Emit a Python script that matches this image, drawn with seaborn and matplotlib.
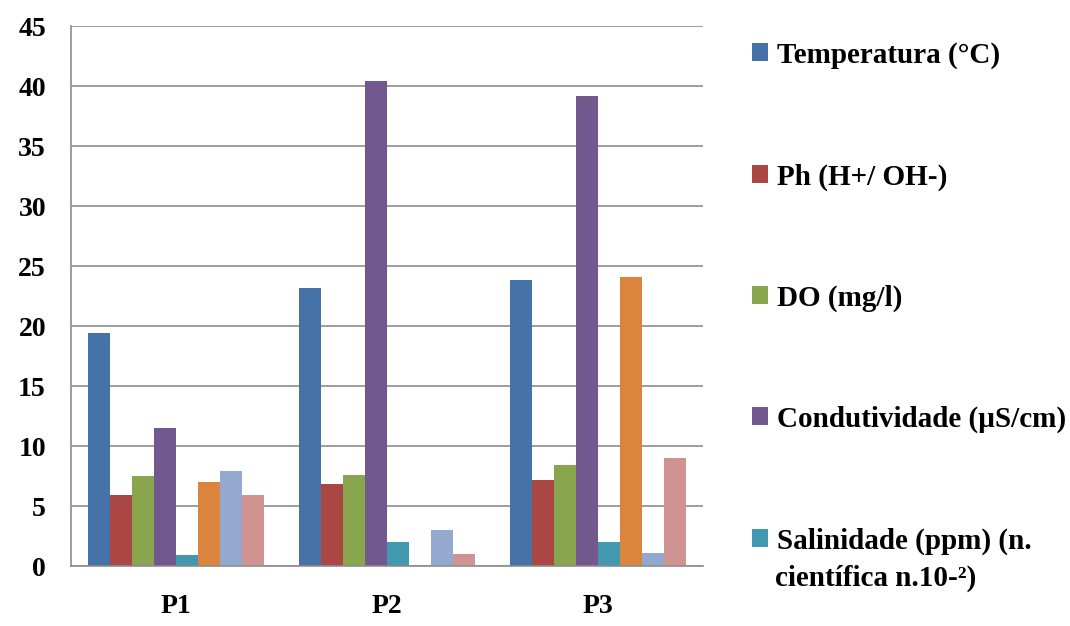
import matplotlib
matplotlib.use("Agg")
import matplotlib.pyplot as plt
import seaborn as sns
import pandas as pd
from matplotlib.patches import Patch

categories = ["P1", "P2", "P3"]
series_names = [
    "Temperatura (°C)",
    "Ph (H+/ OH-)",
    "DO (mg/l)",
    "Condutividade (µS/cm)",
    "Salinidade (ppm) (n.",
    "Série 6",
    "Série 7",
    "Série 8",
]
salinidade_line2 = "científica n.10-²)"
temperatura = [19.4, 23.2, 23.8]
ph = [5.9, 6.8, 7.2]
do = [7.5, 7.6, 8.4]
condutividade = [11.5, 40.4, 39.2]
salinidade = [0.9, 2.0, 2.0]
serie6 = [7.0, 0.0, 24.1]
serie7 = [7.9, 3.0, 1.1]
serie8 = [5.9, 1.0, 9.0]
all_values = [temperatura, ph, do, condutividade, salinidade, serie6, serie7, serie8]
yticks = [0, 5, 10, 15, 20, 25, 30, 35, 40, 45]

colors = ["#4572A7", "#AA4643", "#89A54E", "#71588F", "#4198AF",
          "#DB843D", "#93A9CF", "#D19392"]

rows = []
for name, vals in zip(series_names, all_values):
    for c, v in zip(categories, vals):
        rows.append({"cat": c, "serie": name, "val": v})
df = pd.DataFrame(rows)

sns.set_style("white")
plt.rcParams["font.family"] = ["Liberation Serif", "DejaVu Serif"]
plt.rcParams["font.weight"] = "bold"
plt.rcParams["text.color"] = "black"
plt.rcParams["xtick.color"] = "black"
plt.rcParams["ytick.color"] = "black"

fig = plt.figure(figsize=(10.7, 6.26), dpi=100)
ax = fig.add_axes([71 / 1070, 60 / 626, 632 / 1070, 540 / 626])

sns.barplot(data=df, x="cat", y="val", hue="serie", hue_order=series_names,
            palette=colors, width=0.835, saturation=1, ax=ax, legend=False,
            linewidth=0, errorbar=None)

ax.set_ylim(0, 45)
ax.set_yticks(yticks)
ax.set_xlim(-0.5, 2.5)
ax.yaxis.grid(True, color="#8c8c8c", linewidth=1.2)
ax.set_axisbelow(True)
for s in ["top", "right"]:
    ax.spines[s].set_visible(False)
for s in ["left", "bottom"]:
    ax.spines[s].set_color("#8c8c8c")
    ax.spines[s].set_linewidth(1.2)
ax.set_xlabel("")
ax.set_ylabel("")
ax.tick_params(axis="y", length=5, color="#8c8c8c", labelcolor="black", pad=13, labelsize=20)
ax.tick_params(axis="x", length=0, pad=20, labelcolor="black", labelsize=20)
for lab in ax.get_xticklabels() + ax.get_yticklabels():
    lab.set_fontweight("bold")

legend_y = [55, 177, 298, 419, 541]
for i, ypix in enumerate(legend_y):
    h = Patch(facecolor=colors[i], edgecolor="none", label=series_names[i])
    fig.legend(handles=[h], loc="center left",
               bbox_to_anchor=(752 / 1070, 1 - ypix / 626),
               frameon=False, prop={"size": 21, "weight": "bold"},
               handlelength=0.55, handleheight=0.55, handletextpad=0.3,
               borderaxespad=0, borderpad=0, labelcolor="black")
fig.text(775 / 1070, 1 - 578 / 626, salinidade_line2, fontsize=21,
         fontweight="bold", va="center", ha="left", color="black")

fig.savefig("out.png", dpi=100)
